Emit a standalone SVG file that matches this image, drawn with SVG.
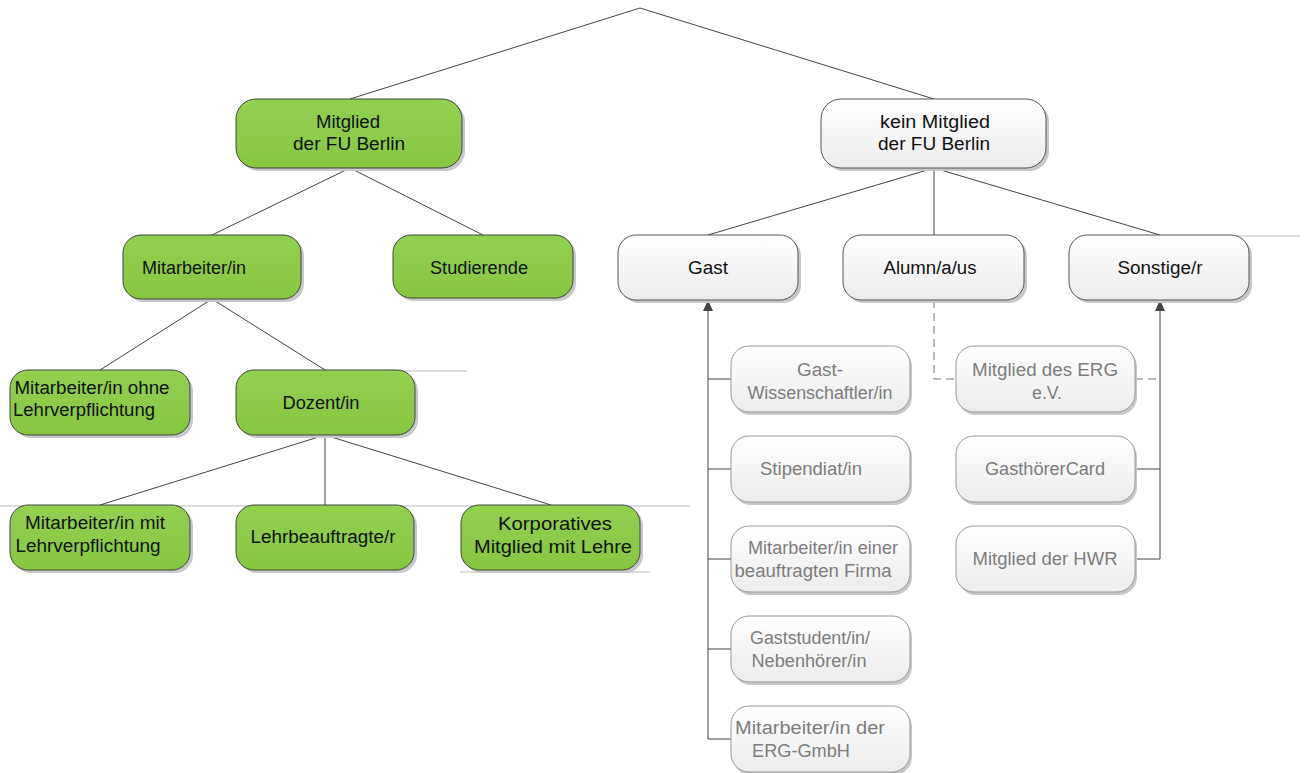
<svg xmlns="http://www.w3.org/2000/svg" width="1307" height="773" viewBox="0 0 1307 773">
<defs>
<linearGradient id="gw" x1="0" y1="0" x2="0" y2="1"><stop offset="0" stop-color="#ffffff"/><stop offset="1" stop-color="#ececec"/></linearGradient>
<linearGradient id="gg" x1="0" y1="0" x2="0" y2="1"><stop offset="0" stop-color="#92d050"/><stop offset="1" stop-color="#86c740"/></linearGradient>
<marker id="arr" markerWidth="11" markerHeight="10" refX="10" refY="5" orient="auto" markerUnits="userSpaceOnUse" viewBox="0 0 11 10"><path d="M0,0 L11,5 L0,10 Z" fill="#444"/></marker>
</defs>
<style>
.g{fill:url(#gg);stroke:#444;stroke-width:1}
.w{fill:url(#gw);stroke:#555;stroke-width:1}
.l{fill:url(#gw);stroke:#999;stroke-width:1}
.sh{fill:#c8c8c8}
text{font-family:"Liberation Sans",Arial,sans-serif;font-size:18px;text-anchor:middle}
.tb{fill:#111}
.tl{fill:#7d7d7d}
.c{fill:none;stroke:#444;stroke-width:1}
.cg{fill:none;stroke:#bbb;stroke-width:1}
.cd{fill:none;stroke:#777;stroke-width:1;stroke-dasharray:8,5}
</style>
<rect width="1307" height="773" fill="#fff"/>
<g id="connectors">
<path class="c" d="M640,8 L350,99 M640,8 L934,99"/>
<path class="c" d="M350,168 L212,235 M350,168 L483,235"/>
<path class="c" d="M934,168 L708,235 M934,168 L934,235 M934,168 L1160,235"/>
<path class="c" d="M212,299 L100,370 M212,299 L325,370"/>
<path class="c" d="M325,435 L100,505 M325,435 L325,505 M325,435 L551,505"/>
<path class="cg" d="M1160,236 L1300,236 M325,371 L467,371 M0,506 L690,506 M460,572 L650,572"/>
<path class="c" d="M708,739 L708,301" marker-end="url(#arr)"/>
<path class="c" d="M708,379 L731,379 M708,469 L731,469 M708,559 L731,559 M708,649 L731,649 M708,739 L731,739"/>
<path class="cd" d="M934,300 L934,379 L956,379 M1135,379 L1160,379"/>
<path class="c" d="M1160,559 L1160,301" marker-end="url(#arr)"/>
<path class="c" d="M1135,469 L1160,469 M1135,559 L1160,559"/>
</g>
<g id="n-mitglied"><rect class="sh" x="239" y="102" width="226" height="69" rx="20"/><rect class="g" x="236" y="99" width="226" height="69" rx="20"/><text class="tb" x="348" y="128" textLength="64" lengthAdjust="spacingAndGlyphs">Mitglied</text><text class="tb" x="349" y="150" textLength="112" lengthAdjust="spacingAndGlyphs">der FU Berlin</text></g>
<g id="n-kein"><rect class="sh" x="824" y="102" width="225" height="69" rx="20"/><rect class="w" x="821" y="99" width="225" height="69" rx="20"/><text class="tb" x="935" y="128" textLength="110" lengthAdjust="spacingAndGlyphs">kein Mitglied</text><text class="tb" x="934" y="150" textLength="112" lengthAdjust="spacingAndGlyphs">der FU Berlin</text></g>
<g id="n-mitarbeiter"><rect class="sh" x="126" y="238" width="178" height="64" rx="18"/><rect class="g" x="123" y="235" width="178" height="64" rx="18"/><text class="tb" x="194" y="274">Mitarbeiter/in</text></g>
<g id="n-studierende"><rect class="sh" x="396" y="238" width="180" height="63" rx="18"/><rect class="g" x="393" y="235" width="180" height="63" rx="18"/><text class="tb" x="479" y="274" textLength="98" lengthAdjust="spacingAndGlyphs">Studierende</text></g>
<g id="n-gast"><rect class="sh" x="621" y="238" width="180" height="65" rx="18"/><rect class="w" x="618" y="235" width="180" height="65" rx="18"/><text class="tb" x="708" y="274" textLength="40" lengthAdjust="spacingAndGlyphs">Gast</text></g>
<g id="n-alumn"><rect class="sh" x="846" y="238" width="181" height="65" rx="18"/><rect class="w" x="843" y="235" width="181" height="65" rx="18"/><text class="tb" x="930" y="274" textLength="93" lengthAdjust="spacingAndGlyphs">Alumn/a/us</text></g>
<g id="n-sonstige"><rect class="sh" x="1072" y="238" width="180" height="65" rx="18"/><rect class="w" x="1069" y="235" width="180" height="65" rx="18"/><text class="tb" x="1160" y="274" textLength="85" lengthAdjust="spacingAndGlyphs">Sonstige/r</text></g>
<g id="n-ohne"><rect class="sh" x="13" y="373" width="180" height="65" rx="18"/><rect class="g" x="10" y="370" width="180" height="65" rx="18"/><text class="tb" x="92" y="394" textLength="155" lengthAdjust="spacingAndGlyphs">Mitarbeiter/in ohne</text><text class="tb" x="84" y="416" textLength="142" lengthAdjust="spacingAndGlyphs">Lehrverpflichtung</text></g>
<g id="n-dozent"><rect class="sh" x="239" y="373" width="179" height="65" rx="18"/><rect class="g" x="236" y="370" width="179" height="65" rx="18"/><text class="tb" x="321" y="409" textLength="77" lengthAdjust="spacingAndGlyphs">Dozent/in</text></g>
<g id="n-mit"><rect class="sh" x="13" y="508" width="180" height="65" rx="18"/><rect class="g" x="10" y="505" width="180" height="65" rx="18"/><text class="tb" x="95" y="529" textLength="140" lengthAdjust="spacingAndGlyphs">Mitarbeiter/in mit</text><text class="tb" x="88" y="552" textLength="145" lengthAdjust="spacingAndGlyphs">Lehrverpflichtung</text></g>
<g id="n-lehrb"><rect class="sh" x="239" y="508" width="178" height="65" rx="18"/><rect class="g" x="236" y="505" width="178" height="65" rx="18"/><text class="tb" x="323" y="543" textLength="145" lengthAdjust="spacingAndGlyphs">Lehrbeauftragte/r</text></g>
<g id="n-korp"><rect class="sh" x="464" y="508" width="179" height="65" rx="18"/><rect class="g" x="461" y="505" width="179" height="65" rx="18"/><text class="tb" x="555" y="530" textLength="114" lengthAdjust="spacingAndGlyphs">Korporatives</text><text class="tb" x="553" y="553" textLength="158" lengthAdjust="spacingAndGlyphs">Mitglied mit Lehre</text></g>
<g id="n-gastwiss"><rect class="sh" x="733" y="349" width="179" height="66" rx="18"/><rect class="l" x="731" y="346" width="179" height="66" rx="18"/><text class="tl" x="820" y="376" textLength="46" lengthAdjust="spacingAndGlyphs">Gast-</text><text class="tl" x="820" y="399" textLength="145" lengthAdjust="spacingAndGlyphs">Wissenschaftler/in</text></g>
<g id="n-stip"><rect class="sh" x="733" y="439" width="179" height="66" rx="18"/><rect class="l" x="731" y="436" width="179" height="66" rx="18"/><text class="tl" x="811" y="475" textLength="102" lengthAdjust="spacingAndGlyphs">Stipendiat/in</text></g>
<g id="n-firma"><rect class="sh" x="733" y="529" width="179" height="66" rx="18"/><rect class="l" x="731" y="526" width="179" height="66" rx="18"/><text class="tl" x="823" y="554" textLength="150" lengthAdjust="spacingAndGlyphs">Mitarbeiter/in einer</text><text class="tl" x="813" y="577" textLength="157" lengthAdjust="spacingAndGlyphs">beauftragten Firma</text></g>
<g id="n-gaststud"><rect class="sh" x="733" y="619" width="179" height="66" rx="18"/><rect class="l" x="731" y="616" width="179" height="66" rx="18"/><text class="tl" x="810" y="644" textLength="120" lengthAdjust="spacingAndGlyphs">Gaststudent/in/</text><text class="tl" x="809" y="667" textLength="115" lengthAdjust="spacingAndGlyphs">Nebenhörer/in</text></g>
<g id="n-ergmbh"><rect class="sh" x="733" y="709" width="179" height="66" rx="18"/><rect class="l" x="731" y="706" width="179" height="66" rx="18"/><text class="tl" x="810" y="734" textLength="150" lengthAdjust="spacingAndGlyphs">Mitarbeiter/in der</text><text class="tl" x="801" y="757" textLength="98" lengthAdjust="spacingAndGlyphs">ERG-GmbH</text></g>
<g id="n-erg"><rect class="sh" x="958" y="349" width="179" height="66" rx="18"/><rect class="l" x="956" y="346" width="179" height="66" rx="18"/><text class="tl" x="1045" y="376" textLength="146" lengthAdjust="spacingAndGlyphs">Mitglied des ERG</text><text class="tl" x="1047" y="399" textLength="30" lengthAdjust="spacingAndGlyphs">e.V.</text></g>
<g id="n-card"><rect class="sh" x="958" y="439" width="179" height="66" rx="18"/><rect class="l" x="956" y="436" width="179" height="66" rx="18"/><text class="tl" x="1045" y="475" textLength="120" lengthAdjust="spacingAndGlyphs">GasthörerCard</text></g>
<g id="n-hwr"><rect class="sh" x="958" y="529" width="179" height="66" rx="18"/><rect class="l" x="956" y="526" width="179" height="66" rx="18"/><text class="tl" x="1045" y="565" textLength="145" lengthAdjust="spacingAndGlyphs">Mitglied der HWR</text></g>
</svg>
